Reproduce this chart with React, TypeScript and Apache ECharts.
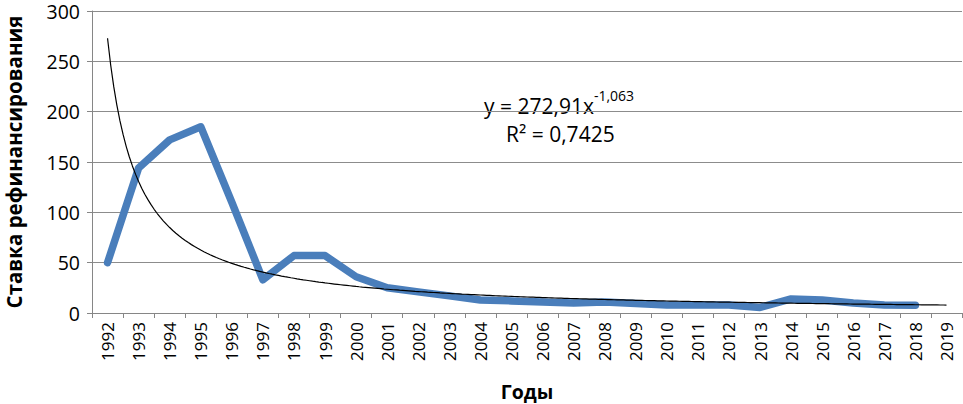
import React, { useEffect, useRef } from "react";
import * as echarts from "echarts";

const years = [
  "1992","1993","1994","1995","1996","1997","1998","1999","2000","2001",
  "2002","2003","2004","2005","2006","2007","2008","2009","2010","2011",
  "2012","2013","2014","2015","2016","2017","2018","2019",
];
const rates: (number | null)[] = [
  50, 144, 172, 185, 110, 33, 57, 57, 36, 25,
  21, 17, 13, 12, 11, 10, 11, 9.5, 8, 8,
  8, 5.5, 14, 13, 10, 8, 7.75, null,
];
// Power trendline shown on the chart: y = a * x^b
const trendCoef = [272.91, -1.063];
const equationLines = ["y = 272,91x", "-1,063", "R² = 0,7425"];

const FONT = "'Open Sans', 'Noto Sans', sans-serif";

export default function App() {
  const ref = useRef<HTMLDivElement>(null);
  useEffect(() => {
    if (!ref.current) return;
    const chart = echarts.init(ref.current, null, { renderer: "svg" });
    const trend: number[][] = [];
    for (let i = 10; i <= years.length * 10; i++) {
      const x = i / 10;
      trend.push([x, trendCoef[0] * Math.pow(x, trendCoef[1])]);
    }
    chart.setOption({
      animation: false,
      grid: {
        left: 92,
        right: 1,
        top: 11,
        bottom: 91,
        containLabel: false,
        outerBoundsMode: "none",
      },
      xAxis: [
        {
          type: "category",
          data: years,
          boundaryGap: true,
          axisLine: { lineStyle: { color: "#868686", width: 1 } },
          axisTick: { show: true, length: 5, lineStyle: { color: "#868686" } },
          axisLabel: { rotate: 90, fontSize: 17, color: "#000", fontFamily: FONT, margin: 9 },
          name: "Годы",
          nameLocation: "middle",
          nameGap: 68,
          nameTextStyle: { fontSize: 19.5, fontWeight: "bold", color: "#000", fontFamily: FONT, lineHeight: 20 },
        },
        {
          type: "value",
          min: 0.5,
          max: years.length + 0.5,
          show: false,
        },
      ],
      yAxis: {
        type: "value",
        min: 0,
        max: 300,
        interval: 50,
        axisLine: { show: true, lineStyle: { color: "#868686", width: 1 } },
        axisTick: { show: true, length: 5, lineStyle: { color: "#868686" } },
        axisLabel: { fontSize: 19.5, color: "#000", fontFamily: FONT, margin: 12, lineHeight: 14 },
        splitLine: { lineStyle: { color: "#8c8c8c", width: 1 } },
        name: "Ставка рефинансирования",
        nameLocation: "middle",
        nameGap: 68,
        nameTextStyle: { fontSize: 20.5, fontWeight: "bold", color: "#000", fontFamily: FONT },
      },
      series: [
        {
          type: "line",
          data: rates,
          xAxisIndex: 0,
          showSymbol: false,
          symbol: "none",
          lineStyle: { color: "#4a7ebb", width: 7.5, join: "round", cap: "round" },
          z: 2,
        },
        {
          type: "line",
          data: trend,
          xAxisIndex: 1,
          showSymbol: false,
          symbol: "none",
          lineStyle: { color: "#000", width: 1.2 },
          z: 3,
        },
      ],
      graphic: [
        {
          type: "text",
          left: 484,
          top: 88,
          style: {
            text: "{m|" + equationLines[0] + "}{s|" + equationLines[1] + "}",
            rich: {
              m: { fontSize: 21, fontFamily: FONT, fill: "#000", verticalAlign: "bottom", lineHeight: 28 },
              s: { fontSize: 14, fontFamily: FONT, fill: "#000", verticalAlign: "top", lineHeight: 28, padding: [0, 0, 12, 0] },
            },
          },
        },
        {
          type: "text",
          left: 506,
          top: 123,
          style: { text: equationLines[2], fontSize: 21, fontFamily: FONT, fill: "#000" },
        },
      ],
    });
    return () => chart.dispose();
  }, []);
  return (
    <div
      ref={ref}
      style={{ position: "absolute", left: 0, top: 0, width: 963, height: 404 }}
    />
  );
}
